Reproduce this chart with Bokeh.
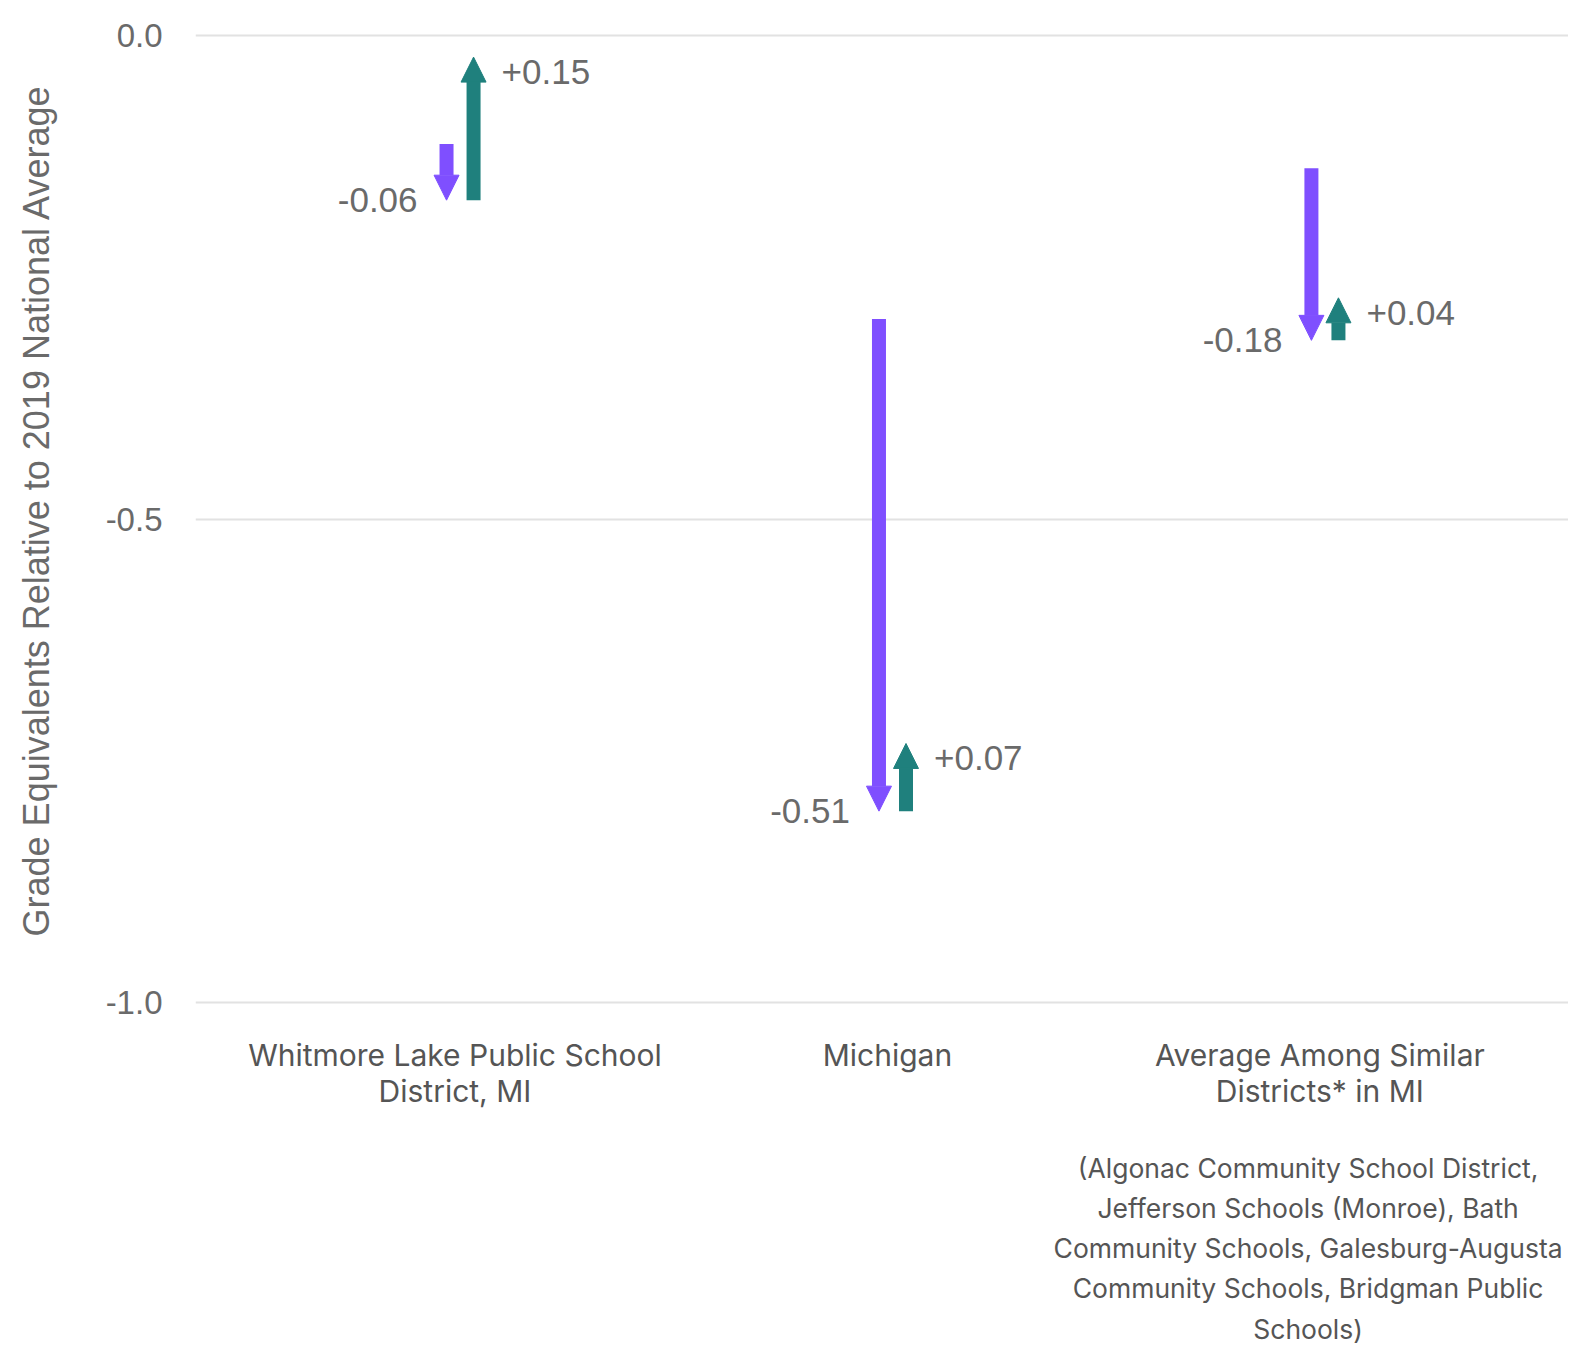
from bokeh.plotting import figure
from bokeh.models import (Range1d, FixedTicker, PrintfTickFormatter, Arrow, NormalHead,
                          ColumnDataSource, LinearAxis)
from bokeh.core.properties import value
from bokeh.embed import file_html
from bokeh.resources import INLINE

# ---- data ----
categories = ["Whitmore Lake Public School\nDistrict, MI", "Michigan", "Average Among Similar\nDistricts* in MI"]
score_2019 = [-0.112, -0.293, -0.137]       # start of decline
score_low = [-0.170, -0.802, -0.315]        # after decline
score_recovered = [-0.022, -0.732, -0.271]  # after recovery
y_ticks = [-1.0, -0.5, 0.0]
subtitle = ("(Algonac Community School District,\nJefferson Schools (Monroe), Bath\n"
            "Community Schools, Galesburg-Augusta\nCommunity Schools, Bridgman Public\nSchools)")

PURPLE = "#7F4FFF"
TEAL = "#1F807D"
GREY = "#6A6A6A"
DARK = "#555555"

pos = list(range(len(categories)))
drop = [l - s for s, l in zip(score_2019, score_low)]
rec = [r - l for l, r in zip(score_low, score_recovered)]

p = figure(width=1568, height=1354, output_backend="svg", toolbar_location=None,
           x_range=Range1d(-0.6, 2.575), y_range=Range1d(-1.002, 0.02),
           min_border_left=195, min_border_right=0, min_border_top=16, min_border_bottom=350)
p.outline_line_color = None
p.background_fill_color = "white"
p.border_fill_color = "white"
p.xgrid.grid_line_color = None
p.ygrid.grid_line_color = "#E2E2E2"
p.ygrid.grid_line_width = 2

# y axis
p.yaxis.ticker = FixedTicker(ticks=y_ticks)
p.yaxis.formatter = PrintfTickFormatter(format="%.1f")
p.yaxis.axis_line_color = None
p.yaxis.major_tick_line_color = None
p.yaxis.minor_tick_line_color = None
p.yaxis.major_label_standoff = 27
p.yaxis.major_label_text_font = "Liberation Sans"
p.yaxis.major_label_text_font_size = "33px"
p.yaxis.major_label_text_color = GREY
p.yaxis.axis_label = "Grade Equivalents Relative to 2019 National Average"
p.yaxis.axis_label_text_font = "Liberation Sans"
p.yaxis.axis_label_text_font_size = "36px"
p.yaxis.axis_label_text_font_style = "normal"
p.yaxis.axis_label_text_color = GREY
p.yaxis.axis_label_standoff = 46

# x axis (category names)
p.xaxis.ticker = FixedTicker(ticks=pos)
p.xaxis.major_label_overrides = {i: c for i, c in zip(pos, categories)}
p.xaxis.axis_line_color = None
p.xaxis.major_tick_line_color = None
p.xaxis.minor_tick_line_color = None
p.xaxis.major_label_standoff = 26
p.xaxis.major_label_text_font = "Inter"
p.xaxis.major_label_text_font_size = "30px"
p.xaxis.major_label_text_color = DARK
p.xaxis.major_label_text_line_height = 1.0

# second x axis: list of similar districts under the third category
ax2 = LinearAxis(ticker=FixedTicker(ticks=[pos[2]]), major_label_overrides={pos[2]: subtitle})
ax2.axis_line_color = None
ax2.major_tick_line_color = None
ax2.minor_tick_line_color = None
ax2.major_label_standoff = 34
ax2.major_label_text_font = "Inter"
ax2.major_label_text_font_size = "26.5px"
ax2.major_label_text_color = DARK
ax2.major_label_text_line_height = 1.258
p.add_layout(ax2, "below")

off_p, off_t = -0.0195, 0.043
src_p = ColumnDataSource(dict(x=[i + off_p for i in pos], y0=score_2019, y1=score_low,
                              lab=[f"{d:+.2f}" for d in drop]))
src_t = ColumnDataSource(dict(x=[i + off_t for i in pos], y0=score_low, y1=score_recovered,
                              lab=[f"{d:+.2f}" for d in rec]))

p.add_layout(Arrow(x_start="x", y_start="y0", x_end="x", y_end="y1", source=src_p,
                   line_color=PURPLE, line_width=14, line_cap="butt",
                   end=NormalHead(size=25, fill_color=PURPLE, line_color=PURPLE, line_width=1)))
p.add_layout(Arrow(x_start="x", y_start="y0", x_end="x", y_end="y1", source=src_t,
                   line_color=TEAL, line_width=14, line_cap="butt",
                   end=NormalHead(size=25, fill_color=TEAL, line_color=TEAL, line_width=1)))

p.text(x="x", y="y1", text="lab", source=src_p, text_font=value("Liberation Sans"),
       text_font_size="35px", text_color=GREY, text_align="right", text_baseline="alphabetic",
       x_offset=-29)
p.text(x="x", y="y1", text="lab", source=src_t, text_font=value("Liberation Sans"),
       text_font_size="35px", text_color=GREY, text_align="left", text_baseline="middle",
       x_offset=28, y_offset=15)

open("out.html", "w").write(file_html(p, INLINE))
